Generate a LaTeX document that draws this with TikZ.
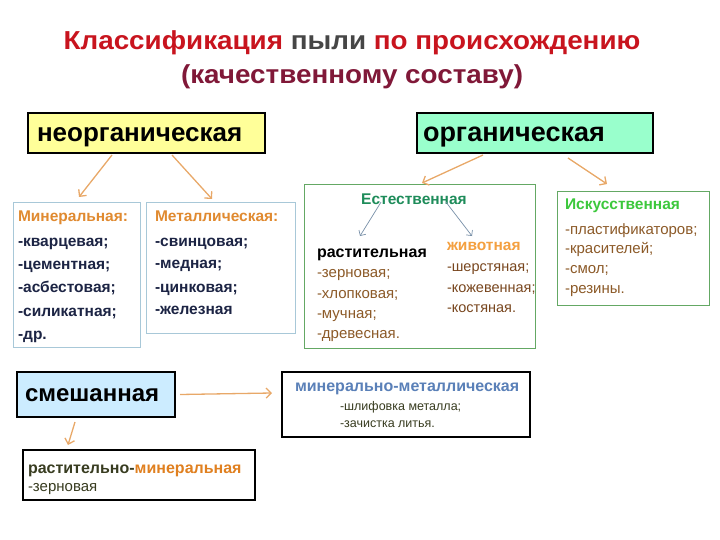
\documentclass[tikz,border=0pt]{standalone}
\usepackage{fontspec}
\setmainfont{Liberation Sans}
\newfontfamily\titlefont[FakeStretch=1.07]{Liberation Sans}
\usetikzlibrary{arrows.meta}
\definecolor{tred}{RGB}{200,20,30}
\definecolor{tgray}{RGB}{70,70,70}
\definecolor{tsub}{RGB}{128,24,56}
\definecolor{yel}{RGB}{255,255,153}
\definecolor{mint}{RGB}{153,255,204}
\definecolor{sky}{RGB}{204,236,255}
\definecolor{tan}{RGB}{232,168,104}
\definecolor{bluegray}{RGB}{120,144,168}
\definecolor{lbord}{RGB}{168,200,216}
\definecolor{navy}{RGB}{28,36,68}
\definecolor{orng}{RGB}{224,138,48}
\definecolor{gbord}{RGB}{100,168,100}
\definecolor{ghead}{RGB}{30,140,90}
\definecolor{bgreen}{RGB}{60,200,60}
\definecolor{brown}{RGB}{140,90,40}
\definecolor{dbrown}{RGB}{120,70,30}
\definecolor{lorng}{RGB}{244,160,64}
\definecolor{steel}{RGB}{90,128,184}
\definecolor{olive}{RGB}{56,60,32}
\definecolor{morng}{RGB}{224,128,32}
\begin{document}
\begin{tikzpicture}[x=1pt,y=-1pt,
  every node/.style={inner sep=0pt,outer sep=0pt},
  head/.style={draw=black,line width=2.2pt,rectangle},
  sub/.style={draw=lbord,line width=1pt,rectangle,fill=white},
  gsub/.style={draw=gbord,line width=1pt,rectangle,fill=white},
  arr/.style={draw=tan,line width=1.3pt,-{Straight Barb[length=5pt,width=10pt]}},
  iarr/.style={draw=bluegray,line width=0.7pt,-{Straight Barb[length=4pt,width=8pt]}},
  hd/.style={anchor=base west,font=\fontsize{26}{30}\selectfont\bfseries},
  it/.style={anchor=base west,font=\fontsize{15.5}{18}\selectfont\bfseries,text=navy},
  st/.style={anchor=base west,font=\fontsize{15}{18}\selectfont},
  sh/.style={anchor=base west,font=\fontsize{15.5}{18}\selectfont\bfseries},
]
\useasboundingbox (0,0) rectangle (720,540);
% title
\node[anchor=base,font=\titlefont\fontsize{26}{30}\selectfont\bfseries] (title1) at (352,50)
  {\textcolor{tred}{Классификация} \textcolor{tgray}{пыли} \textcolor{tred}{по происхождению}};
\node[anchor=base,font=\titlefont\fontsize{26}{30}\selectfont\bfseries,text=tsub] (title2) at (352,84)
  {(качественному составу)};
% heading boxes
\node[head,fill=yel,minimum width=237,minimum height=40] (neorg) at (146.5,133) {};
\node[hd] (neorgt) at (37,142) {неорганическая};
\node[head,fill=mint,minimum width=236,minimum height=40] (org) at (535,133) {};
\node[hd,font=\fontsize{27}{30}\selectfont\bfseries] (orgt) at (423,142) {органическая};
\node[head,fill=sky,minimum width=158,minimum height=45] (mix) at (96,394.5) {};
\node[hd,font=\fontsize{24}{28}\selectfont\bfseries] (mixt) at (25,401) {смешанная};
% mineral
\node[sub,minimum width=127,minimum height=144] (minb) at (76.5,275) {};
\node[it,text=orng] (m0) at (18,222) {Минеральная:};
\node[it] (m1) at (18,246) {-кварцевая;};
\node[it] (m2) at (18,269) {-цементная;};
\node[it] (m3) at (18,292) {-асбестовая;};
\node[it] (m4) at (18,316) {-силикатная;};
\node[it] (m5) at (18,339) {-др.};
% metal
\node[sub,minimum width=149,minimum height=130] (metb) at (220.5,268) {};
\node[it,text=orng] (k0) at (155,222) {Металлическая:};
\node[it] (k1) at (155,246) {-свинцовая;};
\node[it] (k2) at (155,268) {-медная;};
\node[it] (k3) at (155,292) {-цинковая;};
\node[it] (k4) at (155,314) {-железная};
% natural
\node[gsub,minimum width=231,minimum height=163] (natb) at (419.5,266.5) {};
\node[sh,anchor=base,text=ghead] (nat) at (414,205) {Естественная};
\node[sh,font=\fontsize{16}{18}\selectfont\bfseries,text=black] (rast) at (317,257) {растительная};
\node[st,text=brown] (r1) at (317,277) {-зерновая;};
\node[st,text=brown] (r2) at (317,298) {-хлопковая;};
\node[st,text=brown] (r3) at (317,318) {-мучная;};
\node[st,text=brown] (r4) at (317,338) {-древесная.};
\node[sh,text=lorng] (ziv) at (447,250) {животная};
\node[st,font=\fontsize{14.5}{18}\selectfont,text=dbrown] (z1) at (447,271) {-шерстяная;};
\node[st,font=\fontsize{14.5}{18}\selectfont,text=dbrown] (z2) at (447,292) {-кожевенная;};
\node[st,font=\fontsize{14.5}{18}\selectfont,text=dbrown] (z3) at (447,312) {-костяная.};
% artificial
\node[gsub,minimum width=152,minimum height=113] (artb) at (633,248.5) {};
\node[sh,text=bgreen] (art) at (565,210) {Искусственная};
\node[st,text=brown] (a1) at (565,235) {-пластификаторов;};
\node[st,text=brown] (a2) at (565,254) {-красителей;};
\node[st,text=brown] (a3) at (565,273) {-смол;};
\node[st,text=brown] (a4) at (565,293) {-резины.};
% mineral-metal
\node[draw=black,line width=1.4pt,rectangle,fill=white,minimum width=248,minimum height=65] (mmb) at (406,404.5) {};
\node[sh,font=\fontsize{16}{18}\selectfont\bfseries,text=steel] (mm) at (295,391) {минерально-металлическая};
\node[st,font=\fontsize{12.5}{15}\selectfont,text=olive] (mm1) at (340,410) {-шлифовка металла;};
\node[st,font=\fontsize{12.5}{15}\selectfont,text=olive] (mm2) at (340,427) {-зачистка литья.};
% plant-mineral
\node[draw=black,line width=2pt,rectangle,fill=white,minimum width=232,minimum height=50] (pmb) at (139,475) {};
\node[sh,font=\fontsize{16}{18}\selectfont\bfseries] (pm) at (28,473) {\textcolor{olive}{растительно-}\textcolor{morng}{минеральная}};
\node[st,text=olive] (pm1) at (28,491) {-зерновая};
% free arrow ends
\coordinate (e1) at (79,197);
\coordinate (e2) at (212,199);
\coordinate (e3) at (422,183);
\coordinate (e4) at (607,184);
\coordinate (e5) at (360,236);
\coordinate (e6) at (472,236);
\coordinate (e7) at (272,393);
\coordinate (e8) at (68,445);
\draw[arr] ([xshift=-34.5pt,yshift=-2pt]neorg.south) -- (e1);
\draw[arr] ([xshift=25.5pt,yshift=-2pt]neorg.south) -- (e2);
\draw[arr] ([xshift=-52pt,yshift=-2pt]org.south) -- (e3);
\draw[arr] ([xshift=33pt,yshift=-5pt]org.south) -- (e4);
\draw[iarr] ([xshift=-33pt,yshift=3pt]nat.south) -- (e5);
\draw[iarr] ([xshift=32pt,yshift=3pt]nat.south) -- (e6);
\draw[arr] ([xshift=5pt]mix.east) -- (e7);
\draw[arr] ([xshift=-21pt,yshift=-5pt]mix.south) -- (e8);
\end{tikzpicture}
\end{document}
